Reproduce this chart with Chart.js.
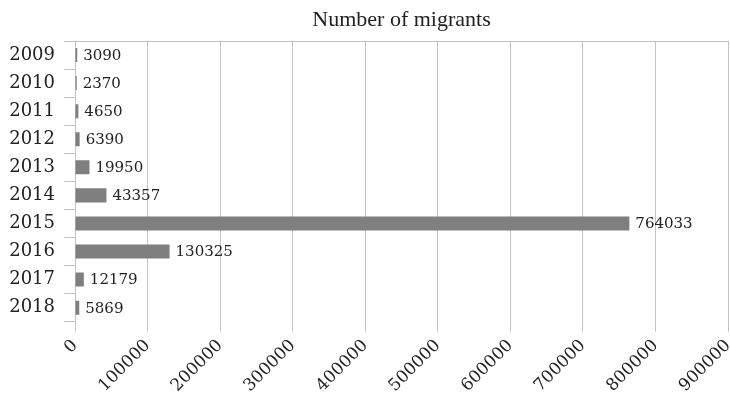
<!DOCTYPE html>
<html>
<head>
<meta charset="utf-8">
<script src="https://cdn.jsdelivr.net/npm/chart.js@4"></script>
<style>
  html, body { margin: 0; padding: 0; background: #fff; }
  #wrap { width: 730px; height: 402px; position: relative; }
</style>
</head>
<body>
<div id="wrap"><canvas id="chart"></canvas></div>
<script>
// ── Data ───────────────────────────────────────────
const years    = ['2009', '2010', '2011', '2012', '2013', '2014', '2015', '2016', '2017', '2018'];
const migrants = [3090, 2370, 4650, 6390, 19950, 43357, 764033, 130325, 12179, 5869];
const xTicks   = [0, 100000, 200000, 300000, 400000, 500000, 600000, 700000, 800000, 900000];
const titleText = 'Number of migrants';

const FONT  = "'DejaVu Serif', serif";
const TFONT = "'Liberation Serif', 'DejaVu Serif', serif";
const GRID  = '#c3c3c3';
const INK   = '#222';

// value labels at the end of each bar
const valueLabels = {
  id: 'valueLabels',
  afterDatasetsDraw(chart) {
    const ctx = chart.ctx;
    const meta = chart.getDatasetMeta(0);
    ctx.save();
    ctx.font = `15px ${FONT}`;
    ctx.fillStyle = INK;
    ctx.textAlign = 'left';
    ctx.textBaseline = 'middle';
    meta.data.forEach((bar, i) => {
      ctx.fillText(String(migrants[i]), bar.x + 6, bar.y + 1);
    });
    ctx.restore();
  }
};

// title centred over the plot area
const plotTitle = {
  id: 'plotTitle',
  afterDraw(chart) {
    const { ctx, chartArea } = chart;
    ctx.save();
    ctx.font = `22px ${TFONT}`;
    ctx.fillStyle = INK;
    ctx.textAlign = 'center';
    ctx.textBaseline = 'middle';
    ctx.fillText(titleText, (chartArea.left + chartArea.right) / 2, 20);
    ctx.restore();
  }
};

new Chart(document.getElementById('chart'), {
  type: 'bar',
  data: {
    labels: years,
    datasets: [{
      data: migrants,
      backgroundColor: '#7f7f7f',
      borderWidth: 0,
      categoryPercentage: 1,
      barPercentage: 0.5
    }]
  },
  options: {
    indexAxis: 'y',
    responsive: true,
    maintainAspectRatio: false,
    animation: false,
    layout: { padding: { top: 41, right: 2, left: 8, bottom: 2 } },
    plugins: {
      legend: { display: false },
      tooltip: { enabled: false },
      title: { display: false }
    },
    scales: {
      x: {
        min: 0,
        max: 900000,
        afterBuildTicks: axis => { axis.ticks = xTicks.map(v => ({ value: v })); },
        afterFit: axis => { axis.paddingRight = 0; axis.paddingLeft = 0; },
        grid: { color: GRID, lineWidth: 1, drawTicks: true, tickLength: 10 },
        border: { display: false },
        ticks: {
          color: INK,
          font: { family: FONT, size: 17 },
          minRotation: 45,
          maxRotation: 45,
          padding: 4,
          autoSkip: false,
          callback: v => String(v)
        }
      },
      y: {
        offset: true,
        afterFit: axis => { axis.width = 67; },
        grid: {
          offset: true,
          color: c => (c.index === 0 || c.index === years.length) ? GRID : 'rgba(0,0,0,0)',
          tickColor: GRID,
          tickLength: 11,
          lineWidth: 1
        },
        border: { display: true, color: GRID },
        ticks: {
          color: INK,
          font: { family: FONT, size: 18 },
          padding: 9
        }
      }
    }
  },
  plugins: [valueLabels, plotTitle]
});
</script>
</body>
</html>
